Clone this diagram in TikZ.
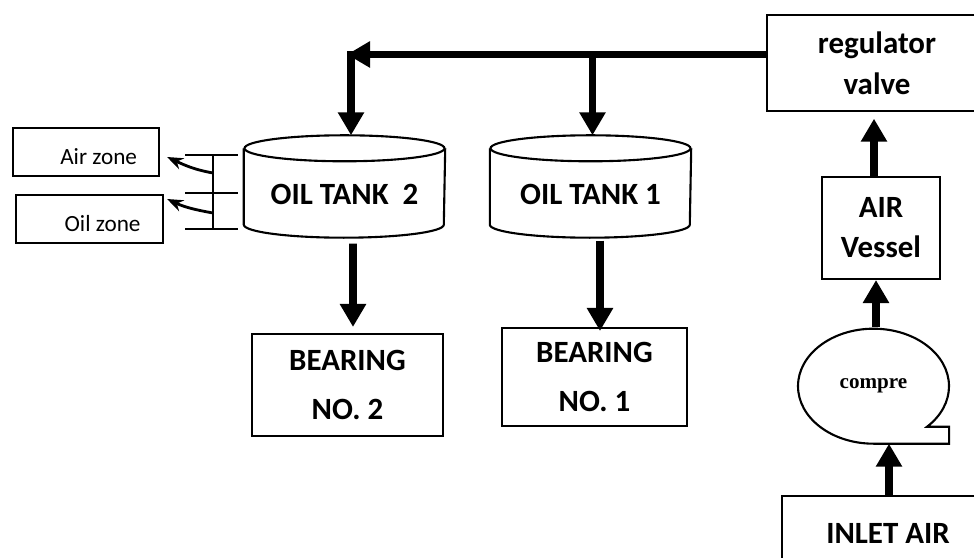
\documentclass[tikz,border=0pt]{standalone}
\usepackage{fontspec}
\setmainfont{Carlito}
\newfontfamily\compfont{Liberation Serif}
\usetikzlibrary{arrows.meta,positioning,shapes.geometric,calc}

\begin{document}
\begin{tikzpicture}[
    font=\bfseries\fontsize{8.8}{11.6}\selectfont,
    box/.style={draw, line width=0.6pt, align=center, inner sep=0pt},
    openbox/.style={align=center, inner sep=0pt},
    zone/.style={
      draw, line width=0.6pt, align=flush right,
      inner xsep=0.22cm, text width=1.02cm,
      text height=0.25cm, text depth=0pt,
      font=\mdseries\fontsize{6.6}{7.8}\selectfont
    },
    flow/.style={-{Triangle[length=0.23cm,width=0.25cm]}, line width=2.2pt},
    tap/.style={-{Stealth[length=0.16cm,width=0.12cm]}, line width=0.8pt},
    thinline/.style={line width=0.6pt}
  ]
    % Page frame
    \useasboundingbox (0,0) rectangle (9.76,-5.58);
    \coordinate (pageedge) at (9.74,0);

    % Oil tanks (cylinders drawn round named boxes)
    \node[minimum width=2cm, minimum height=1.01cm, inner sep=0pt]
      at (3.445,-1.865) (tank2) {};
    \node[minimum width=2cm, minimum height=1.01cm, inner sep=0pt]
      at (5.905,-1.865) (tank1) {};
    \foreach \t in {tank2,tank1} {
      \draw[thinline] ([yshift=-0.13cm]\t.north)
        ellipse [x radius=1, y radius=0.13];
      \draw[thinline] ([yshift=-0.13cm]\t.north west)
        -- ([yshift=0.13cm]\t.south west)
        arc [start angle=180, end angle=360, x radius=1, y radius=0.13]
        -- ([yshift=-0.13cm]\t.north east);
    }
    \node at ([yshift=-0.075cm]tank2.center) (tank2lbl) {OIL TANK\ \ 2};
    \node at ([yshift=-0.075cm]tank1.center) (tank1lbl) {OIL TANK 1};

    % Bearings
    \node[box, minimum width=1.91cm, minimum height=1.02cm,
      font=\bfseries\fontsize{8.8}{13.7}\selectfont]
      at (3.475,-3.85) (brg2) {BEARING\\NO. 2};
    \node[box, minimum width=1.85cm, minimum height=0.98cm,
      font=\bfseries\fontsize{8.8}{13.7}\selectfont]
      at (5.945,-3.77) (brg1) {BEARING\\NO. 1};

    % Air line (right column); valve and inlet boxes run off the page
    \node[openbox, minimum width=2.18cm, minimum height=0.94cm]
      at (8.77,-0.63) (reg) {regulator\\valve};
    \draw[thinline] (reg.north -| pageedge) -| (reg.south west)
      -- (reg.south -| pageedge);
    \node[box, minimum width=1.18cm, minimum height=1.02cm,
      font=\bfseries\fontsize{8.8}{11.4}\selectfont]
      at (8.81,-2.28) (vessel) {AIR\\Vessel};
    \node[ellipse, minimum width=1.51cm, minimum height=1.15cm, inner sep=0pt,
      font=\compfont\bfseries\fontsize{6}{7}\selectfont]
      at (8.735,-3.855) (comp) {compre};
    \draw[thinline] (comp.south)
      arc [start angle=-90, end angle=-404.8, x radius=0.755, y radius=0.575]
      -- ++(0.22,0) |- (comp.south);
    \node[openbox, minimum width=2.1cm, minimum height=0.73cm]
      at (8.88,-5.335) (inlet) {INLET AIR};
    \draw[thinline] (inlet.north -| pageedge) -| ([yshift=-0.2cm]inlet.south west);

    \draw[flow] ([xshift=0.01cm]inlet.north)
      -- ([xshift=0.01cm]inlet.north |- comp.south);
    \draw[flow] ([xshift=0.025cm]comp.north)
      -- ([xshift=0.025cm]comp.north |- vessel.south);
    \draw[flow, shorten >=0.08cm] ([xshift=-0.07cm]vessel.north)
      -- ([xshift=-0.07cm]vessel.north |- reg.south);

    % Oil feed from the valve to both tanks
    \coordinate (corner) at (3.51,-0.51);
    \coordinate (branch) at (5.925,-0.545);
    \draw[flow] (reg.west |- branch) -- ([xshift=-0.04cm]corner |- branch);
    \draw[flow] (corner) -- (corner |- tank2.north);
    \draw[flow] (branch) -- (branch |- tank1.north);

    % Tanks to bearings
    \draw[flow] ([xshift=0.085cm,yshift=-0.06cm]tank2.south)
      -- ([xshift=0.055cm,yshift=0.06cm]brg2.north);
    \draw[flow] ([xshift=0.095cm,yshift=-0.03cm]tank1.south)
      -- ([xshift=0.055cm,yshift=-0.04cm]brg1.north);

    % Level gauge on tank 2
    \node[zone, minimum width=1.46cm, minimum height=0.46cm]
      at (0.86,-1.52) (airz) {Air zone};
    \node[zone, minimum width=1.47cm, minimum height=0.44cm]
      at (0.895,-2.19) (oilz) {Oil zone};
    \foreach \y in {-1.55,-1.93,-2.29}
      \draw[thinline] (1.85,\y) -- (2.38,\y);
    \draw[thinline] (2.13,-1.55) -- (2.13,-2.29);
    \coordinate (tapair) at (2.13,-1.73);
    \coordinate (tapoil) at (2.13,-2.13);
    \draw[tap] (tapair) to[out=170, in=-25]
      ([xshift=0.07cm,yshift=-0.05cm]airz.east);
    \draw[tap] (tapoil) to[out=170, in=-25]
      ([xshift=0.03cm,yshift=0.2cm]oilz.east);
  \end{tikzpicture}
\end{document}
